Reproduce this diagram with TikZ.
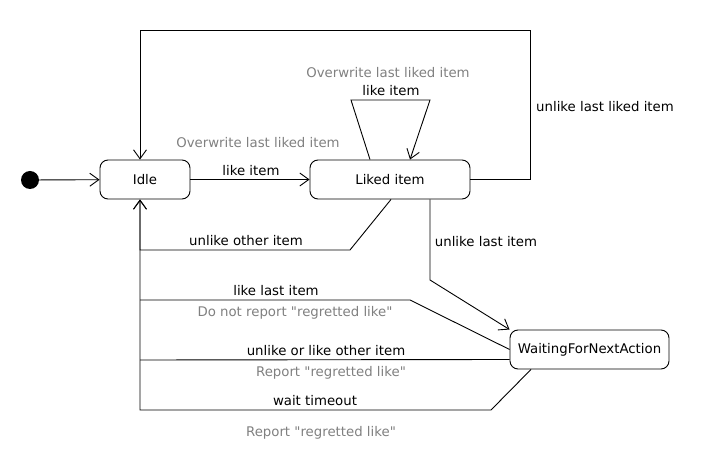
\documentclass[tikz,border=0pt]{standalone}
\usepackage{fontspec}
\newfontfamily\diafont{DejaVu Sans}
\usetikzlibrary{arrows.meta}
\definecolor{notegray}{RGB}{128,128,128}
\tikzset{
  state/.style={draw, rounded corners=8pt, line width=0.9pt, minimum height=39pt, inner sep=0pt},
  arr/.style={line width=0.9pt, -{Straight Barb[length=9pt,width=13pt,line width=0.9pt]}},
  ln/.style={line width=0.9pt},
  lbl/.style={inner sep=0pt, font=\diafont\fontsize{13.3}{15}\selectfont},
  note/.style={lbl, text=notegray},
}
\begin{document}
\begin{tikzpicture}[x=1pt,y=-1pt]
\useasboundingbox (0,0) rectangle (710,470);
\node[circle, fill=black, minimum size=18pt, inner sep=0pt] (init) at (30,180) {};
\node[state, minimum width=90pt, lbl] (idle) at (145,179.5) {Idle};
\node[state, minimum width=160pt, lbl] (liked) at (390,179.5) {Liked item};
\node[state, minimum width=159pt, lbl] (wait) at (589.5,349.5) {WaitingForNextAction};

\draw[arr] (init) -- (idle);
\draw[arr] (idle) -- (liked);
\draw[arr] (liked.east) -| (530,30) -- (140,30) -- ([xshift=-5pt]idle.north);
\draw[arr] ([xshift=-20pt]liked.north) -- (351,100) -- (430,100) -- ([xshift=20pt]liked.north);
\draw[arr] ([xshift=1pt]liked.south) -- (350,250) -- (140,250) -- ([xshift=-5pt]idle.south);
\draw[arr] ([xshift=40pt]liked.south) -- (430,280) -- (wait.north west);
\draw[ln] (wait.west) -- (410,300) -- (140,300);
\draw[ln] ([yshift=-10pt]wait.west) -- (140,360);
\draw[arr] ([xshift=-58.5pt]wait.south) -- (491,410) -- (140,410) -- ([xshift=-5pt]idle.south);

\node[lbl] (l1) at (605,107) {unlike last liked item};
\node[note] (n1) at (388,73) {Overwrite last liked item};
\node[lbl] (l2) at (391,91) {like item};
\node[note] (n2) at (258,143) {Overwrite last liked item};
\node[lbl] (l3) at (251,171) {like item};
\node[lbl] (l4) at (246,241) {unlike other item};
\node[lbl] (l5) at (486,242) {unlike last item};
\node[lbl] (l6) at (276,291) {like last item};
\node[note] (n3) at (295,313) {Do not report "regretted like"};
\node[lbl] (l7) at (326,351) {unlike or like other item};
\node[note] (n4) at (331,373) {Report "regretted like"};
\node[lbl] (l8) at (315,401) {wait timeout};
\node[note] (n5) at (321,433) {Report "regretted like"};
\end{tikzpicture}
\end{document}
